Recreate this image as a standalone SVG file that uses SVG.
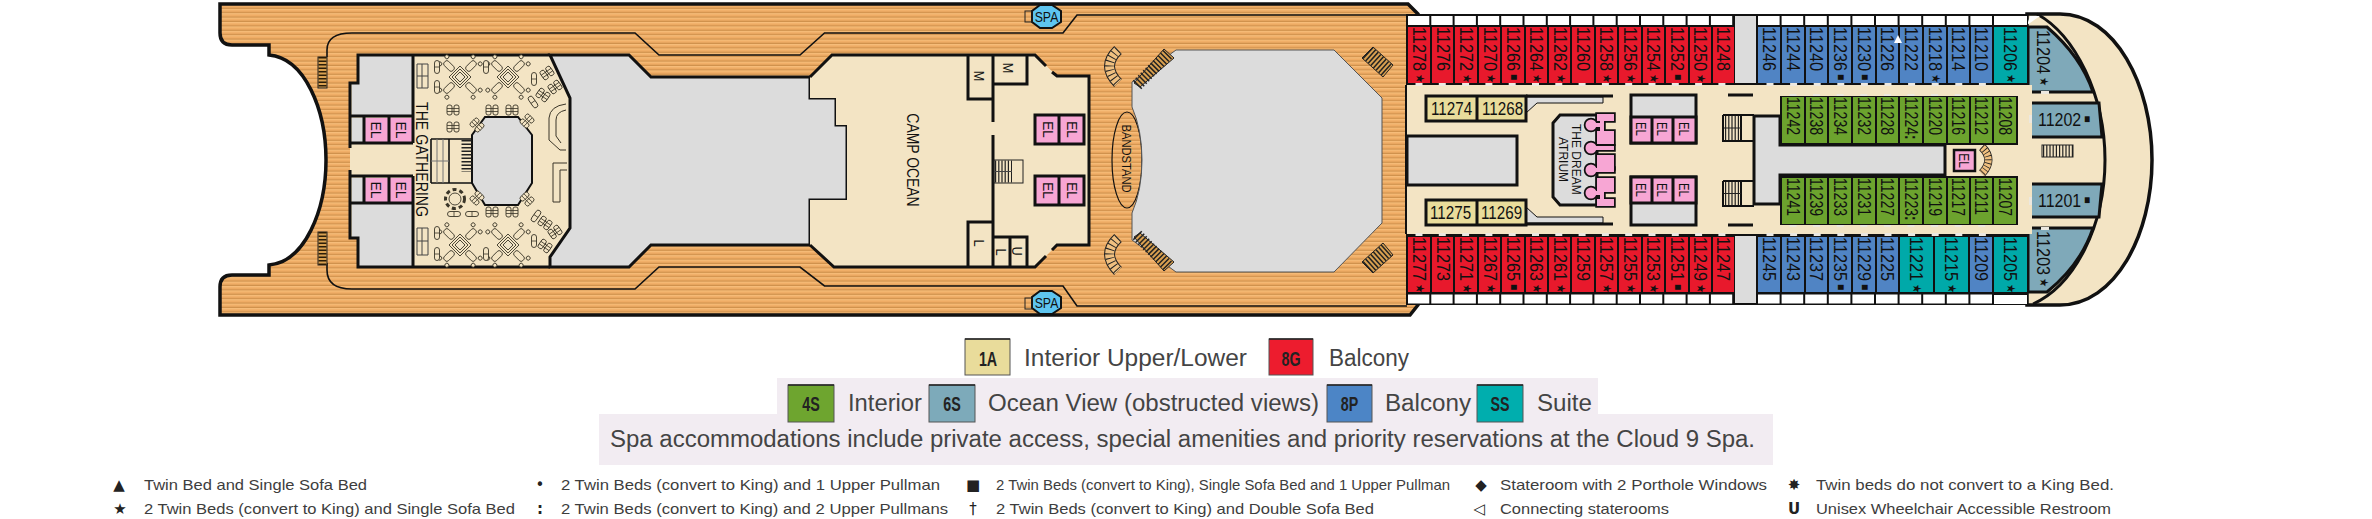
<svg xmlns="http://www.w3.org/2000/svg" width="2372" height="519" viewBox="0 0 2372 519">
<style>
text{font-family:"Liberation Sans",Arial,sans-serif;fill:#111}
.w{stroke:#111;stroke-width:3;fill:none}
.t{stroke:#111;stroke-width:1.6;fill:none}
.f{stroke:#3a3528;stroke-width:.9;fill:#f3e4c4}
.g{fill:#dcdcdc;stroke:#111;stroke-width:3}
.c{fill:#f3e4c4}
.k{fill:#111}
.p{fill:#f7a6d4;stroke:#111;stroke-width:3}
.r{fill:#e8192c}.b{fill:#5084c4}.n{fill:#6ca32e}.a{fill:#00a9a9}.o{fill:#7fa9b9;stroke:#111;stroke-width:3}.y{fill:#e9dc9b}
.d{font-size:19px}
.s{font-size:12px;baseline-shift:3px}
.h{font-size:19px;font-weight:bold}
.e{font-size:15px;text-anchor:middle}
.m{text-anchor:middle}
.l{font-size:23px;fill:#444}
.q{font-size:15px;fill:#3d3d3d}
.u{font-size:15px;fill:#222;text-anchor:middle;font-family:"DejaVu Sans",sans-serif}
.z{font-size:21px;font-weight:bold;text-anchor:middle;fill:#222}
.dr{stroke:#ece8e0;stroke-width:3;stroke-dasharray:7 16.3;fill:none}
.dq{stroke:#ece8e0;stroke-width:3;stroke-dasharray:7 16.6;fill:none}
.st{stroke:#2a1c08;fill:none;stroke-dasharray:1.5 2}
.sw{stroke-width:9;stroke:#fff}
</style>
<defs>
<pattern id="wood" width="6" height="4.4" patternUnits="userSpaceOnUse">
<rect width="6" height="4.4" fill="#f0ad66"/><rect width="6" height="1.2" fill="#f6bd7a"/><rect y="3.2" width="6" height="1.2" fill="#cf914c"/>
</pattern>
<g id="ch"><rect x="-6" y="-3" width="12" height="6" rx="2.500" class="f"/><circle cx="-8" cy="-5" r="2" class="f"/><circle cx="-8" cy="5" r="2" class="f"/></g>
<g id="tb">
<polygon points="0,-11 11,0 0,11 -11,0" fill="none" stroke="#3a3528" stroke-width=".9"/><polygon points="0,-8 8,0 0,8 -8,0" fill="none" stroke="#3a3528" stroke-width=".9"/><polygon points="0,-5 5,0 0,5 -5,0" fill="#efe3c8" stroke="#3a3528" stroke-width=".9"/>
<use href="#ch" transform="translate(-11 -11) rotate(45)"/><use href="#ch" transform="translate(11 -11) rotate(135)"/><use href="#ch" transform="translate(11 11) rotate(225)"/><use href="#ch" transform="translate(-11 11) rotate(315)"/>
</g>
<g id="pr"><rect x="-6" y="-5" width="5" height="10" rx="2" class="f"/><rect x="1" y="-5" width="5" height="10" rx="2" class="f"/><path d="M-6-1.500H6M-6 1.500H6" stroke="#3a3528" stroke-width=".8" fill="none"/></g>
<g id="pl"><rect x="-2.500" y="-6.500" width="5" height="13" rx="2.500" class="f"/><path d="M-2.500 0H2.500" stroke="#3a3528" stroke-width=".8"/></g>
<g id="atr">
<rect x="1597" y="114" width="17" height="7"/><rect x="1600" y="119" width="4" height="14"/><rect x="1597" y="131" width="17" height="13"/><rect x="1597" y="155" width="17" height="14"/><rect x="1597" y="178" width="17" height="14"/><rect x="1597" y="199" width="17" height="7"/><rect x="1600" y="190" width="4" height="12"/>
<circle cx="1591" cy="125" r="5.500"/><rect x="1591" y="123" width="10" height="4"/><circle cx="1591" cy="148" r="5.500"/><rect x="1591" y="146" width="23" height="4"/><circle cx="1591" cy="170" r="5.500"/><rect x="1591" y="168" width="23" height="4"/><circle cx="1591" cy="193" r="5.500"/><rect x="1591" y="191" width="12" height="4"/>
</g>
<g id="cv"><path d="M12 0Q-5 16 12 33" fill="none" stroke="#222" stroke-width="11"/><path d="M12 0Q-5 16 12 33" fill="none" stroke="#f0c080" stroke-width="9"/><path d="M12 0Q-5 16 12 33" fill="none" stroke="#222" stroke-width="9" stroke-dasharray="1 3.500"/></g>
</defs>

<g id="hull">
<path d="M220 4H1408L1418 14V305L1410 315H220V287Q220 275 232 275H269V265C305 262 326 210 326 160C326 110 305 58 269 55V45H232Q220 45 220 33Z" fill="url(#wood)" stroke="#111" stroke-width="3.500"/>
<path class="t" d="M327 57V50Q327 33 352 33H635L659 55H800L824.500 33H1063L1077 15H1407"/>
<path class="t" d="M327 263V270Q327 289 352 289H635L659 267H800L824.500 286H1063L1077 306H1407"/>
<rect x="318" y="57" width="9" height="31" fill="#d9a050" stroke="#222"/><line x1="322.500" y1="57" x2="322.500" y2="88" class="st" stroke-width="8"/>
<rect x="318" y="232" width="9" height="33" fill="#d9a050" stroke="#222"/><line x1="322.500" y1="232" x2="322.500" y2="265" class="st" stroke-width="8"/>
</g>

<g id="the-gathering">
<path d="M358 55V83H350V238H358V267H413V55Z" class="c"/>
<path d="M358 56H412V115H352V84H358Z" fill="#dcdcdc"/><path d="M352 204H412V266H358V237H352Z" fill="#dcdcdc"/>
<rect x="352" y="118" width="12" height="24" fill="#dcdcdc"/><rect x="352" y="178" width="12" height="24" fill="#dcdcdc"/>
<rect x="365" y="118" width="23" height="24" fill="#f7a6d4"/><rect x="390" y="118" width="22" height="24" fill="#f7a6d4"/>
<rect x="365" y="178" width="23" height="24" fill="#f7a6d4"/><rect x="390" y="178" width="22" height="24" fill="#f7a6d4"/>
<path d="M413 55H550L570 98V228L550 257V267H413Z" class="c"/>
<path d="M550 55H629L651 77H810V98H836V125H847V200H810V245H651L629 267H550V257L570 228V98Z" class="g"/>
<path class="w" d="M350 148V83H358V55H550M350 170V238H358V267H550M413 55V143M413 176V267M351 116H413M351 143H413M351 176H413M351 203H413M364 116V143M364 176V203M389 116V143M389 176V203"/>
<polygon points="485,117 518,117 532,135 532,183 518,205 485,205 472,183 472,135" fill="#dcdcdc" stroke="#111" stroke-width="2"/>
<path class="t" d="M431 139H472M431 183H472M431 139V183M449 139V183"/>
<path d="M431 161H449M437 139V183M443 139V183" stroke="#777" fill="none"/>
<line x1="466.500" y1="140" x2="466.500" y2="172" stroke="#222" stroke-width="10" stroke-dasharray="1.500 2"/>
<path d="M417 64H428V88H417ZM417 76H428M422 64V88M417 228H428V255H417ZM417 241H428M422 228V255" fill="none" stroke="#444"/>
<g fill="none" stroke="#3a3528"><path d="M566 104Q550 106 549 118V140L560 150H566M566 110Q556 112 556 120V136L561 143"/><path d="M567 163H553V202H560V170H567"/></g>
<use href="#tb" x="460" y="77"/><use href="#tb" x="508" y="77"/><use href="#tb" x="460" y="245"/><use href="#tb" x="508" y="245"/>
<use href="#pr" x="453" y="110"/><use href="#pr" x="453" y="127"/><use href="#pr" x="492" y="110"/><use href="#pr" x="512" y="110"/><use href="#pr" x="492" y="212"/><use href="#pr" x="512" y="212"/>
<use href="#pr" transform="translate(477 125) rotate(45)"/><use href="#pr" transform="translate(527 121) rotate(-45)"/><use href="#pr" transform="translate(477 198) rotate(-45)"/><use href="#pr" transform="translate(527 199) rotate(45)"/>
<use href="#pr" transform="translate(547 73) rotate(-35)"/><use href="#pr" transform="translate(555 87) rotate(-35)"/><use href="#pr" transform="translate(543 95) rotate(35)"/><use href="#pl" transform="translate(533 102) rotate(-35)"/>
<use href="#pl" transform="translate(536 216) rotate(35)"/><use href="#pr" transform="translate(545 223) rotate(35)"/><use href="#pr" transform="translate(555 232) rotate(-35)"/><use href="#pr" transform="translate(545 246) rotate(35)"/>
<use href="#pl" x="437" y="67"/><use href="#pl" x="437" y="87"/><use href="#pl" x="486" y="67"/><use href="#pl" x="534" y="79"/><use href="#pl" x="437" y="233"/><use href="#pl" x="437" y="254"/><use href="#pl" x="486" y="254"/><use href="#pl" x="534" y="241"/>
<use href="#pl" transform="translate(454 214) rotate(90)"/><use href="#pl" transform="translate(472 214) rotate(90)"/>
<circle cx="455" cy="199" r="6" class="f"/><circle cx="455" cy="199" r="9.500" fill="none" stroke="#3a3528" stroke-width="3" stroke-dasharray="4 3"/>
<text class="e" transform="matrix(0 .93 -1 0 370.500 130)">EL</text><text class="e" transform="matrix(0 .93 -1 0 396 130)">EL</text>
<text class="e" transform="matrix(0 .93 -1 0 370.500 190)">EL</text><text class="e" transform="matrix(0 .93 -1 0 396 190)">EL</text>
<text class="m" font-size="17" transform="matrix(0 .83 -1 0 416 159.500)">THE GATHERING</text>
</g>

<g id="camp-ocean">
<path d="M810 77L832 55H1035L1057 76H1089V245H1057L1035 267H834L810 245V200H847V125H836V98H810Z" class="c"/>
<path class="w" d="M810 77L832 55H1035L1046 66M1052 72L1057 76H1089V245H1057L1052 250M1046 256L1035 267H834L810 245M968 55V99H993M993 55V122M993 135V267M993 84H1027V55M968 267V222H993M993 237H1027V267M1010 237V267"/>
<rect x="1035" y="115" width="49" height="29" class="p"/><rect x="1035" y="176" width="49" height="29" class="p"/>
<path class="w" d="M1059 115V144M1059 176V205"/>
<rect x="994" y="160" width="29" height="23" fill="none" stroke="#222"/><line x1="995" y1="171.500" x2="1012" y2="171.500" stroke="#222" stroke-width="22" stroke-dasharray="1.200 2"/><line x1="994" y1="171.500" x2="1012" y2="171.500" stroke="#444"/>
<text class="e" transform="matrix(0 .9 -1 0 1043 129.500)">EL</text><text class="e" transform="matrix(0 .9 -1 0 1067 129.500)">EL</text>
<text class="e" transform="matrix(0 .9 -1 0 1043 190.500)">EL</text><text class="e" transform="matrix(0 .9 -1 0 1067 190.500)">EL</text>
<text class="e" transform="matrix(0 .85 -1 0 974 76)">M</text><text class="e" transform="matrix(0 .85 -1 0 1003 68)">M</text>
<text class="e" transform="matrix(0 .85 -1 0 974 243)">L</text><text class="e" transform="matrix(0 .85 -1 0 996 252)">L</text><text class="e" transform="matrix(0 .85 -1 0 1012 251)">U</text>
<text class="m" font-size="16" transform="matrix(0 .87 -1 0 907 160)">CAMP OCEAN</text>
</g>

<g id="bandstand">
<ellipse cx="1127" cy="160" rx="15" ry="48" fill="none" stroke="#111" stroke-width="1.200"/>
<path d="M1132 82L1176 50H1334L1382 98V223L1334 272H1176L1132 240V213Q1142 190 1142 160T1132 107Z" fill="#dcdcdc" stroke="#555"/>
<polygon points="1134,83 1164,49 1174,58 1140,87" fill="#d9a050" stroke="#222"/><line x1="1137" y1="85" x2="1169" y2="53" stroke="#222" stroke-width="12" stroke-dasharray="1.500 2"/>
<polygon points="1134,237 1164,271 1174,262 1140,233" fill="#d9a050" stroke="#222"/><line x1="1137" y1="235" x2="1169" y2="267" stroke="#222" stroke-width="12" stroke-dasharray="1.500 2"/>
<polygon points="1373,47 1393,65 1383,77 1362,58" fill="#d9a050" stroke="#222"/><line x1="1367.500" y1="52.500" x2="1388" y2="71" stroke="#222" stroke-width="15" stroke-dasharray="1.500 2"/>
<polygon points="1373,273 1393,255 1383,243 1362,262" fill="#d9a050" stroke="#222"/><line x1="1367.500" y1="267.500" x2="1388" y2="249" stroke="#222" stroke-width="15" stroke-dasharray="1.500 2"/>
<use href="#cv" x="1106" y="50"/><use href="#cv" x="1106" y="238"/>
<text class="m" font-size="13" transform="matrix(0 .86 -1 0 1122 158.500)">BANDSTAND</text>
</g>

<g id="spa-aft"><polygon points="1040,5 1052,5 1061,11 1061,22 1052,28 1040,28 1032,22 1032,11" fill="#5ec5f0" stroke="#111" stroke-width="2"/><rect x="1025" y="11" width="7" height="11" fill="none" stroke="#222"/><text class="m" font-size="15" transform="matrix(.82 0 0 1 1046.500 22)">SPA</text></g>
<g id="spa-fwd"><polygon points="1040,291 1052,291 1061,297 1061,308 1052,314 1040,314 1032,308 1032,297" fill="#5ec5f0" stroke="#111" stroke-width="2"/><rect x="1025" y="298" width="7" height="11" fill="none" stroke="#222"/><text class="m" font-size="15" transform="matrix(.82 0 0 1 1046.500 308)">SPA</text></g>

<g id="bow">
<path d="M2027 14H2060C2115 14 2152 85 2152 160C2152 235 2115 305 2060 305H2027Z" fill="#f3e4c4" stroke="#111" stroke-width="3.500"/>
<path d="M2037 14C2075 35 2105 95 2105 160C2105 225 2075 285 2033 304" fill="none" stroke="#111" stroke-width="3"/>
<path class="o" d="M2028 27H2047C2068 45 2085 68 2093 92H2028Z"/>
<path class="o" d="M2028 228H2093C2085 252 2068 275 2047 292H2028Z"/>
<path d="M2030 16H2040L2027 25Z" fill="#fff"/>
<path class="o" d="M2030 103H2099L2102 137H2030Z"/>
<path class="o" d="M2030 217H2099L2102 184H2030Z"/>
<rect x="2042" y="145" width="31" height="12" fill="none" stroke="#222"/><line x1="2043" y1="151" x2="2073" y2="151" stroke="#222" stroke-width="12" stroke-dasharray="1.200 2"/>
</g>

<g id="midship">
<rect x="1406" y="14" width="622" height="71" class="k"/><rect x="1406" y="234" width="622" height="71" class="k"/>
<rect x="1407" y="85" width="625" height="149" class="c"/>
<rect x="1735" y="16" width="21" height="67" fill="#dcdcdc"/><rect x="1735" y="236" width="21" height="67" fill="#dcdcdc"/>
<line x1="1408" y1="20.500" x2="1733" y2="20.500" class="sw" stroke-dasharray="21.300 2"/>
<line x1="1408" y1="299" x2="1733" y2="299" class="sw" stroke-dasharray="21.300 2"/>
<line x1="1758" y1="20.500" x2="1993" y2="20.500" class="sw" stroke-dasharray="21.600 2"/>
<line x1="1758" y1="299" x2="1993" y2="299" class="sw" stroke-dasharray="21.600 2"/>
<rect x="1994" y="16" width="33" height="9" fill="#fff"/><rect x="1994" y="295" width="33" height="9" fill="#fff"/>
<line x1="1406" y1="85" x2="1406" y2="234" stroke="#111" stroke-width="2"/>
<path class="dr" d="M1415.500 84.500H1733M1415.500 234.500H1733"/>
<path class="dq" d="M1766.500 84.500H2000M1766.500 234.500H2000M1789.500 95.500H2000M1789.500 225.500H2000"/>
<rect x="2015" y="113" width="3" height="8" fill="#ece8e0"/><rect x="2029" y="115" width="3" height="8" fill="#ece8e0"/><rect x="2015" y="197" width="3" height="8" fill="#ece8e0"/><rect x="2029" y="197" width="3" height="8" fill="#ece8e0"/>
<rect x="2041" y="91" width="8" height="3" fill="#ece8e0"/><rect x="2041" y="227" width="8" height="3" fill="#ece8e0"/>
<rect x="1407" y="136" width="110" height="49" class="g"/>
<path d="M1526 97H1603V103H1537L1526 113ZM1526 223H1603V217H1537L1526 207Z" fill="#dcdcdc" stroke="#111"/>
<path class="w" d="M1526 96H1613M1526 224H1613M1728 95H1753M1728 225H1753"/>
<path class="g" d="M1553 123L1560 115H1597V205H1560L1553 197Z"/>
<use href="#atr" fill="#111" stroke="#111" stroke-width="3.500"/><use href="#atr" fill="#f7a6d4"/>
<text font-size="12" transform="translate(1572 124) rotate(90)">THE DREAM</text>
<text font-size="12" transform="translate(1559 137) rotate(90)">ATRIUM</text>
<rect x="1631" y="95" width="65" height="48" class="g"/><rect x="1631" y="117" width="65" height="26" class="p"/>
<rect x="1631" y="177" width="65" height="48" class="g"/><rect x="1631" y="177" width="65" height="26" class="p"/>
<path class="w" d="M1652 117V143M1673 117V143M1652 177V203M1673 177V203"/>
<text class="e" transform="matrix(0 .75 -1 0 1636 129)">EL</text><text class="e" transform="matrix(0 .75 -1 0 1657 129)">EL</text><text class="e" transform="matrix(0 .75 -1 0 1679 129)">EL</text>
<text class="e" transform="matrix(0 .75 -1 0 1636 190)">EL</text><text class="e" transform="matrix(0 .75 -1 0 1657 190)">EL</text><text class="e" transform="matrix(0 .75 -1 0 1679 190)">EL</text>
<path fill="none" stroke="#111" stroke-width="2" d="M1723 115H1754M1723 115V141H1754M1723 181H1754M1723 181V206H1754M1741 115V141M1741 181V206"/>
<line x1="1725" y1="128" x2="1741" y2="128" stroke="#222" stroke-width="24" stroke-dasharray="1.200 2"/><line x1="1725" y1="193.500" x2="1741" y2="193.500" stroke="#222" stroke-width="23" stroke-dasharray="1.200 2"/>
<line x1="1724" y1="128" x2="1741" y2="128" stroke="#222"/><line x1="1724" y1="193.500" x2="1741" y2="193.500" stroke="#222"/>
<path d="M1754 116H1780V145H1945V175H1780V204H1754Z" class="g"/>
<rect x="1954" y="150" width="21" height="21" class="p" style="stroke-width:2.500"/>
<text class="e" transform="matrix(0 .8 -1 0 1959 160.500)">EL</text>
<use href="#cv" transform="translate(1991 147) scale(-.75 .8)"/>
</g>

<g id="interior-cabins">
<rect x="1426" y="96" width="100" height="25" class="y" stroke="#111" stroke-width="3"/><line x1="1477" y1="96" x2="1477" y2="121" stroke="#111" stroke-width="3"/>
<rect x="1426" y="200" width="100" height="25" class="y" stroke="#111" stroke-width="3"/><line x1="1477" y1="200" x2="1477" y2="225" stroke="#111" stroke-width="3"/>
<text class="d" transform="matrix(.8 0 0 1 1431 115)">11274</text><text class="d" transform="matrix(.8 0 0 1 1482 115)">11268</text>
<text class="d" transform="matrix(.8 0 0 1 1430 219)">11275</text><text class="d" transform="matrix(.8 0 0 1 1481 219)">11269</text>
</g>

<g id="balcony-red">
<rect x="1408" y="27" width="22" height="56" class="r"/><rect x="1432" y="27" width="21" height="56" class="r"/><rect x="1455" y="27" width="22" height="56" class="r"/><rect x="1479" y="27" width="21" height="56" class="r"/><rect x="1502" y="27" width="22" height="56" class="r"/><rect x="1526" y="27" width="21" height="56" class="r"/><rect x="1549" y="27" width="21" height="56" class="r"/><rect x="1572" y="27" width="22" height="56" class="r"/><rect x="1596" y="27" width="21" height="56" class="r"/><rect x="1619" y="27" width="22" height="56" class="r"/><rect x="1643" y="27" width="21" height="56" class="r"/><rect x="1666" y="27" width="22" height="56" class="r"/><rect x="1690" y="27" width="21" height="56" class="r"/><rect x="1713" y="27" width="21" height="56" class="r"/>
<rect x="1408" y="237" width="22" height="55" class="r"/><rect x="1432" y="237" width="21" height="55" class="r"/><rect x="1455" y="237" width="22" height="55" class="r"/><rect x="1479" y="237" width="21" height="55" class="r"/><rect x="1502" y="237" width="22" height="55" class="r"/><rect x="1526" y="237" width="21" height="55" class="r"/><rect x="1549" y="237" width="21" height="55" class="r"/><rect x="1572" y="237" width="22" height="55" class="r"/><rect x="1596" y="237" width="21" height="55" class="r"/><rect x="1619" y="237" width="22" height="55" class="r"/><rect x="1643" y="237" width="21" height="55" class="r"/><rect x="1666" y="237" width="22" height="55" class="r"/><rect x="1690" y="237" width="21" height="55" class="r"/><rect x="1713" y="237" width="21" height="55" class="r"/>
<text class="d" transform="matrix(0 .86 -1 0 1412.500 27)">11278<tspan class="s"> ★</tspan></text><text class="d" transform="matrix(0 .86 -1 0 1436.500 27)">11276</text><text class="d" transform="matrix(0 .86 -1 0 1459.500 27)">11272<tspan class="s"> ★</tspan></text><text class="d" transform="matrix(0 .86 -1 0 1483.500 27)">11270<tspan class="s"> ★</tspan></text><text class="d" transform="matrix(0 .86 -1 0 1506.500 27)">11266<tspan class="s"> ■</tspan></text><text class="d" transform="matrix(0 .86 -1 0 1529.500 27)">11264<tspan class="s"> ★</tspan></text><text class="d" transform="matrix(0 .86 -1 0 1553.500 27)">11262<tspan class="s"> ★</tspan></text><text class="d" transform="matrix(0 .86 -1 0 1576.500 27)">11260</text><text class="d" transform="matrix(0 .86 -1 0 1599.500 27)">11258<tspan class="s"> ★</tspan></text><text class="d" transform="matrix(0 .86 -1 0 1623.500 27)">11256<tspan class="s"> ★</tspan></text><text class="d" transform="matrix(0 .86 -1 0 1646.500 27)">11254<tspan class="s"> ★</tspan></text><text class="d" transform="matrix(0 .86 -1 0 1670.500 27)">11252<tspan class="s"> ■</tspan></text><text class="d" transform="matrix(0 .86 -1 0 1693.500 27)">11250<tspan class="s"> ★</tspan></text><text class="d" transform="matrix(0 .86 -1 0 1716.500 27)">11248</text>
<text class="d" transform="matrix(0 .86 -1 0 1412.500 237)">11277<tspan class="s"> ★</tspan></text><text class="d" transform="matrix(0 .86 -1 0 1436.500 237)">11273</text><text class="d" transform="matrix(0 .86 -1 0 1459.500 237)">11271<tspan class="s"> ★</tspan></text><text class="d" transform="matrix(0 .86 -1 0 1483.500 237)">11267<tspan class="s"> ★</tspan></text><text class="d" transform="matrix(0 .86 -1 0 1506.500 237)">11265<tspan class="s"> ■</tspan></text><text class="d" transform="matrix(0 .86 -1 0 1529.500 237)">11263<tspan class="s"> ★</tspan></text><text class="d" transform="matrix(0 .86 -1 0 1553.500 237)">11261<tspan class="s"> ★</tspan></text><text class="d" transform="matrix(0 .86 -1 0 1576.500 237)">11259</text><text class="d" transform="matrix(0 .86 -1 0 1599.500 237)">11257<tspan class="s"> ★</tspan></text><text class="d" transform="matrix(0 .86 -1 0 1623.500 237)">11255<tspan class="s"> ★</tspan></text><text class="d" transform="matrix(0 .86 -1 0 1646.500 237)">11253<tspan class="s"> ★</tspan></text><text class="d" transform="matrix(0 .86 -1 0 1670.500 237)">11251<tspan class="s"> ■</tspan></text><text class="d" transform="matrix(0 .86 -1 0 1693.500 237)">11249<tspan class="s"> ★</tspan></text><text class="d" transform="matrix(0 .86 -1 0 1716.500 237)">11247</text>
</g>

<g id="blue-teal-cabins">
<rect x="1758" y="27" width="22" height="56" class="b"/><rect x="1782" y="27" width="22" height="56" class="b"/><rect x="1806" y="27" width="21" height="56" class="b"/><rect x="1829" y="27" width="22" height="56" class="b"/><rect x="1853" y="27" width="22" height="56" class="b"/><rect x="1877" y="27" width="21" height="56" class="b"/><rect x="1900" y="27" width="22" height="56" class="b"/><rect x="1924" y="27" width="22" height="56" class="b"/><rect x="1948" y="27" width="21" height="56" class="b"/><rect x="1971" y="27" width="21" height="56" class="b"/><rect x="1994" y="27" width="33" height="56" class="a"/>
<rect x="1758" y="237" width="22" height="55" class="b"/><rect x="1782" y="237" width="22" height="55" class="b"/><rect x="1806" y="237" width="21" height="55" class="b"/><rect x="1829" y="237" width="22" height="55" class="b"/><rect x="1853" y="237" width="22" height="55" class="b"/><rect x="1877" y="237" width="21" height="55" class="b"/><rect x="1900" y="237" width="33" height="55" class="a"/><rect x="1935" y="237" width="33" height="55" class="a"/><rect x="1970" y="237" width="22" height="55" class="b"/><rect x="1994" y="237" width="33" height="55" class="a"/>
<polygon points="1898,35 1902,43 1894,43" fill="#fff"/>
<text class="d" transform="matrix(0 .86 -1 0 1762.500 27)">11246</text><text class="d" transform="matrix(0 .86 -1 0 1786.500 27)">11244</text><text class="d" transform="matrix(0 .86 -1 0 1810 27)">11240</text><text class="d" transform="matrix(0 .86 -1 0 1833.500 27)">11236<tspan class="s"> ■</tspan></text><text class="d" transform="matrix(0 .86 -1 0 1857.500 27)">11230<tspan class="s"> ■</tspan></text><text class="d" transform="matrix(0 .86 -1 0 1880.500 27)">11226</text><text class="d" transform="matrix(0 .86 -1 0 1904.500 27)">11222</text><text class="d" transform="matrix(0 .86 -1 0 1928.500 27)">11218<tspan class="s"> ★</tspan></text><text class="d" transform="matrix(0 .86 -1 0 1951.500 27)">11214</text><text class="d" transform="matrix(0 .86 -1 0 1974.500 27)">11210</text><text class="d" transform="matrix(0 .86 -1 0 2003.500 27)">11206<tspan class="s"> ★</tspan></text>
<text class="d" transform="matrix(0 .86 -1 0 1762.500 237)">11245</text><text class="d" transform="matrix(0 .86 -1 0 1786.500 237)">11243</text><text class="d" transform="matrix(0 .86 -1 0 1810 237)">11237</text><text class="d" transform="matrix(0 .86 -1 0 1833.500 237)">11235<tspan class="s"> ■</tspan></text><text class="d" transform="matrix(0 .86 -1 0 1857.500 237)">11229<tspan class="s"> ■</tspan></text><text class="d" transform="matrix(0 .86 -1 0 1880.500 237)">11225</text><text class="d" transform="matrix(0 .86 -1 0 1910 237)">11221<tspan class="s"> ★</tspan></text><text class="d" transform="matrix(0 .86 -1 0 1945 237)">11215<tspan class="s"> ★</tspan></text><text class="d" transform="matrix(0 .86 -1 0 1974.500 237)">11209</text><text class="d" transform="matrix(0 .86 -1 0 2003.500 237)">11205<tspan class="s"> ★</tspan></text>
<text class="d" transform="matrix(0 .86 -1 0 2037 30)">11204<tspan class="s"> ★</tspan></text><text class="d" transform="matrix(0 .86 -1 0 2037 231)">11203<tspan class="s"> ★</tspan></text>
<text class="d" transform="matrix(.84 0 0 1 2038 126)">11202<tspan class="s"> ■</tspan></text><text class="d" transform="matrix(.84 0 0 1 2038 207)">11201<tspan class="s"> ■</tspan></text>
</g>

<g id="green-cabins">
<rect x="1780" y="96" width="238" height="49" class="k"/><rect x="1780" y="176" width="238" height="49" class="k"/>
<rect x="1782" y="97" width="22" height="46" class="n"/><rect x="1806" y="97" width="21" height="46" class="n"/><rect x="1829" y="97" width="22" height="46" class="n"/><rect x="1853" y="97" width="22" height="46" class="n"/><rect x="1877" y="97" width="21" height="46" class="n"/><rect x="1900" y="97" width="22" height="46" class="n"/><rect x="1924" y="97" width="22" height="46" class="n"/><rect x="1948" y="97" width="21" height="46" class="n"/><rect x="1971" y="97" width="21" height="46" class="n"/><rect x="1994" y="97" width="22" height="46" class="n"/>
<rect x="1782" y="178" width="22" height="46" class="n"/><rect x="1806" y="178" width="21" height="46" class="n"/><rect x="1829" y="178" width="22" height="46" class="n"/><rect x="1853" y="178" width="22" height="46" class="n"/><rect x="1877" y="178" width="21" height="46" class="n"/><rect x="1900" y="178" width="22" height="46" class="n"/><rect x="1924" y="178" width="22" height="46" class="n"/><rect x="1948" y="178" width="21" height="46" class="n"/><rect x="1971" y="178" width="21" height="46" class="n"/><rect x="1994" y="178" width="22" height="46" class="n"/>
<text class="d" transform="matrix(0 .74 -1 0 1786.500 97)">11242</text><text class="d" transform="matrix(0 .74 -1 0 1810 97)">11238</text><text class="d" transform="matrix(0 .74 -1 0 1833.500 97)">11234</text><text class="d" transform="matrix(0 .74 -1 0 1857.500 97)">11232</text><text class="d" transform="matrix(0 .74 -1 0 1880.500 97)">11228</text><text class="d" transform="matrix(0 .74 -1 0 1904.500 97)">11224<tspan class="h">:</tspan></text><text class="d" transform="matrix(0 .74 -1 0 1928.500 97)">11220</text><text class="d" transform="matrix(0 .74 -1 0 1951.500 97)">11216</text><text class="d" transform="matrix(0 .74 -1 0 1974.500 97)">11212</text><text class="d" transform="matrix(0 .74 -1 0 1998.500 97)">11208</text>
<text class="d" transform="matrix(0 .74 -1 0 1786.500 178)">11241</text><text class="d" transform="matrix(0 .74 -1 0 1810 178)">11239</text><text class="d" transform="matrix(0 .74 -1 0 1833.500 178)">11233</text><text class="d" transform="matrix(0 .74 -1 0 1857.500 178)">11231</text><text class="d" transform="matrix(0 .74 -1 0 1880.500 178)">11227</text><text class="d" transform="matrix(0 .74 -1 0 1904.500 178)">11223<tspan class="h">:</tspan></text><text class="d" transform="matrix(0 .74 -1 0 1928.500 178)">11219</text><text class="d" transform="matrix(0 .74 -1 0 1951.500 178)">11217</text><text class="d" transform="matrix(0 .74 -1 0 1974.500 178)">11211</text><text class="d" transform="matrix(0 .74 -1 0 1998.500 178)">11207</text>
</g>

<g id="legend">
<rect x="777" y="378" width="821" height="36" fill="#f2ecf2"/><rect x="599" y="414" width="1174" height="51" fill="#f2ecf2"/>
<rect x="965" y="339" width="45" height="36" fill="#e9dc9b" stroke="#555"/><path d="M965 339H1010" stroke="#222" stroke-width="1.500"/>
<rect x="1269" y="339" width="44" height="36" fill="#ed1c2e" stroke="#555"/><path d="M1269 339H1313" stroke="#222" stroke-width="1.500"/>
<rect x="788" y="385" width="46" height="37" fill="#6ea52f" stroke="#555"/><path d="M788 385H834" stroke="#222" stroke-width="1.500"/>
<rect x="929" y="385" width="46" height="37" fill="#7daaba" stroke="#555"/><path d="M929 385H975" stroke="#222" stroke-width="1.500"/>
<rect x="1327" y="385" width="45" height="37" fill="#4c85c6" stroke="#555"/><path d="M1327 385H1372" stroke="#222" stroke-width="1.500"/>
<rect x="1477" y="385" width="46" height="37" fill="#00aeae" stroke="#555"/><path d="M1477 385H1523" stroke="#222" stroke-width="1.500"/>
<text class="z" transform="matrix(.68 0 0 1 988 366)">1A</text><text class="z" transform="matrix(.68 0 0 1 1291 366)">8G</text>
<text class="z" transform="matrix(.68 0 0 1 811 411)">4S</text><text class="z" transform="matrix(.68 0 0 1 952 411)">6S</text><text class="z" transform="matrix(.68 0 0 1 1349.500 411)">8P</text><text class="z" transform="matrix(.68 0 0 1 1500 411)">SS</text>
<text class="l" x="1024" y="366" textLength="223" lengthAdjust="spacingAndGlyphs">Interior Upper/Lower</text>
<text class="l" x="1329" y="366" textLength="80" lengthAdjust="spacingAndGlyphs">Balcony</text>
<text class="l" x="848" y="411" textLength="74" lengthAdjust="spacingAndGlyphs">Interior</text>
<text class="l" x="988" y="411" textLength="331" lengthAdjust="spacingAndGlyphs">Ocean View (obstructed views)</text>
<text class="l" x="1385" y="411" textLength="86" lengthAdjust="spacingAndGlyphs">Balcony</text>
<text class="l" x="1537" y="411" textLength="55" lengthAdjust="spacingAndGlyphs">Suite</text>
<text class="l" x="610" y="447" textLength="1145" lengthAdjust="spacingAndGlyphs">Spa accommodations include private access, special amenities and priority reservations at the Cloud 9 Spa.</text>
<text class="u" x="119" y="490">▲</text><text class="q" x="144" y="490" textLength="223" lengthAdjust="spacingAndGlyphs">Twin Bed and Single Sofa Bed</text>
<text class="u" x="120" y="514">★</text><text class="q" x="144" y="514" textLength="371" lengthAdjust="spacingAndGlyphs">2 Twin Beds (convert to King) and Single Sofa Bed</text>
<text class="u" x="540" y="490">•</text><text class="q" x="561" y="490" textLength="379" lengthAdjust="spacingAndGlyphs">2 Twin Beds (convert to King) and 1 Upper Pullman</text>
<text class="u" x="540" y="514" font-weight="bold">:</text><text class="q" x="561" y="514" textLength="387" lengthAdjust="spacingAndGlyphs">2 Twin Beds (convert to King) and 2 Upper Pullmans</text>
<text class="u" x="973" y="490">■</text><text class="q" x="996" y="490" textLength="454" lengthAdjust="spacingAndGlyphs">2 Twin Beds (convert to King), Single Sofa Bed and 1 Upper Pullman</text>
<text class="u" x="973" y="514">†</text><text class="q" x="996" y="514" textLength="378" lengthAdjust="spacingAndGlyphs">2 Twin Beds (convert to King) and Double Sofa Bed</text>
<text class="u" x="1481" y="490">◆</text><text class="q" x="1500" y="490" textLength="267" lengthAdjust="spacingAndGlyphs">Stateroom with 2 Porthole Windows</text>
<text class="u" x="1479" y="514">◁</text><text class="q" x="1500" y="514" textLength="169" lengthAdjust="spacingAndGlyphs">Connecting staterooms</text>
<text class="u" x="1794" y="490">✸</text><text class="q" x="1816" y="490" textLength="298" lengthAdjust="spacingAndGlyphs">Twin beds do not convert to a King Bed.</text>
<text class="u" x="1794" y="514" font-weight="bold">U</text><text class="q" x="1816" y="514" textLength="295" lengthAdjust="spacingAndGlyphs">Unisex Wheelchair Accessible Restroom</text>
</g>
</svg>
